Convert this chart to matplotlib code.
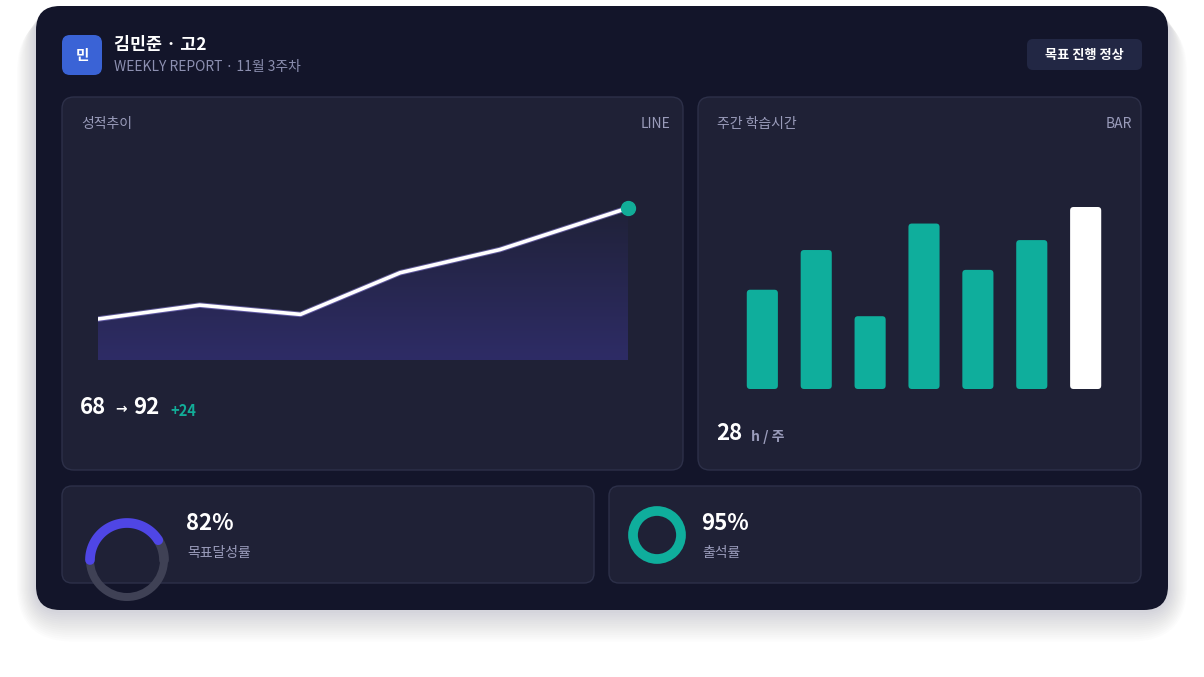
import numpy as np
import matplotlib.pyplot as plt
from matplotlib.patches import FancyBboxPatch, Wedge, Circle
from matplotlib.path import Path
from matplotlib.patches import PathPatch

plt.rcParams['font.family'] = ['Noto Sans CJK KR', 'DejaVu Sans']

# data
scores = [68, 71, 69, 78, 83, 92]
hours = [3.0, 4.2, 2.2, 5.0, 3.6, 4.5, 5.5]
goal_rate = 82
attend_rate = 95

W, H = 1204, 677
fig = plt.figure(figsize=(W / 100, H / 100), dpi=100)
fig.patch.set_facecolor('white')
ax = fig.add_axes([0, 0, 1, 1])
ax.set_xlim(0, W)
ax.set_ylim(H, 0)
ax.axis('off')

def rbox(x0, y0, x1, y1, r, fc, ec='none', lw=0, alpha=1, z=1):
    p = FancyBboxPatch((x0 + r, y0 + r), x1 - x0 - 2 * r, y1 - y0 - 2 * r,
                       boxstyle='round,pad=%s' % r, fc=fc, ec=ec, lw=lw, alpha=alpha, zorder=z)
    ax.add_patch(p)

# shadow
for i in range(14):
    g = 3 + i * 2.2
    rbox(36 - g * 0.6, 6 + g * 0.3, 1168 + g * 0.6, 610 + g, 24 + g, '#1a1d40', alpha=0.012, z=0)
rbox(36, 6, 1168, 610, 24, '#13152a', z=1)

# header
rbox(62, 35, 102, 75, 8, '#3a63d6', z=2)
ax.text(82, 55, '민', color='white', fontsize=10.5, fontweight='bold', ha='center', va='center', zorder=3)
ax.text(114, 45, '김민준 · 고2', color='white', fontsize=12.5, fontweight='bold', va='center', zorder=3)
ax.text(114, 67, 'WEEKLY REPORT · 11월 3주차', color='#8c8fb0', fontsize=10, va='center', zorder=3)
rbox(1027, 39, 1142, 70, 6, '#222744', z=2)
ax.text(1084.5, 55, '목표 진행 정상', color='white', fontsize=9.5, fontweight='bold', ha='center', va='center', zorder=3)

# panels
panel = '#1f2136'
edge = '#2d3049'
rbox(62, 97, 683, 470, 12, panel, edge, 1, z=2)
rbox(698, 97, 1141, 470, 12, panel, edge, 1, z=2)
rbox(62, 486, 594, 583, 10, panel, edge, 1, z=2)
rbox(609, 486, 1141, 583, 10, panel, edge, 1, z=2)

ax.text(81, 124, '성적추이', color='#9a9cbb', fontsize=10, va='center', zorder=3)
ax.text(670, 124, 'LINE', color='#9a9cbb', fontsize=10, ha='right', va='center', zorder=3)
ax.text(717, 124, '주간 학습시간', color='#9a9cbb', fontsize=10, va='center', zorder=3)
ax.text(1132, 124, 'BAR', color='#9a9cbb', fontsize=10, ha='right', va='center', zorder=3)

# line chart
lx0, lx1, ly0, ly1 = 98, 628, 200, 360
lax = fig.add_axes([lx0 / W, 1 - ly1 / H, (lx1 - lx0) / W, (ly1 - ly0) / H])
lax.axis('off')
ymin = 68 - (360 - 319) / 4.625
ymax = 92 + 8 / 4.625
lax.set_xlim(0, len(scores) - 1)
lax.set_ylim(ymin, ymax)
xs = np.arange(len(scores))
xs = np.array([0, 0.96, 1.91, 2.85, 3.79, 5.0])
verts = [(xs[0], ymin)] + list(zip(xs, scores)) + [(xs[-1], ymin), (xs[0], ymin)]
clip = PathPatch(Path(verts), fc='none', ec='none')
lax.add_patch(clip)
grad = np.linspace(1, 0, 256).reshape(-1, 1)
cmap = plt.matplotlib.colors.LinearSegmentedColormap.from_list('g', ['#1f2136', '#2e2c66'])
im = lax.imshow(grad, extent=[0, 5, ymin, ymax], aspect='auto', cmap=cmap, origin='lower', zorder=1)
im.set_clip_path(clip)
lax.plot(xs, scores, color='#9a8cf0', lw=4, alpha=0.5, zorder=2, solid_capstyle='round')
lax.plot(xs, scores, color='white', lw=2.6, zorder=3, solid_capstyle='round')
lax.plot(xs[-1], scores[-1], 'o', color='#12ad98', ms=10, zorder=4, clip_on=False)

ax.text(80, 408, '%d' % scores[0], color='white', fontsize=16, fontweight='bold', va='center', zorder=3)
ax.text(115, 409, '→', color='white', fontsize=10, fontweight='bold', va='center', zorder=3, family='DejaVu Sans')
ax.text(133, 408, '%d' % scores[-1], color='white', fontsize=16, fontweight='bold', va='center', zorder=3)
ax.text(170, 411, '+%d' % (scores[-1] - scores[0]), color='#12ad98', fontsize=10.5, fontweight='bold', va='center', zorder=3)

# bar chart
bx0, bx1, by0, by1 = 730, 1118, 200, 389
bax = fig.add_axes([bx0 / W, 1 - by1 / H, (bx1 - bx0) / W, (by1 - by0) / H])
bax.axis('off')
n = len(hours)
bax.set_xlim(-0.6, n - 0.4)
top = 5.5 * (by1 - by0) / 182
bax.set_ylim(0, top)
ux = (n) / (bx1 - bx0)
uy = top / (by1 - by0)
bw = 32 * ux
for i, h in enumerate(hours):
    c = 'white' if i == n - 1 else '#0fae9c'
    r = 3.5 * ux
    p = FancyBboxPatch((i - bw / 2 + r, r * uy / ux), bw - 2 * r, h - 2 * r * uy / ux,
                       boxstyle='round,pad=%s' % r, mutation_aspect=uy / ux, fc=c, ec='none')
    bax.add_patch(p)

ax.text(716, 434, '%d' % round(sum(hours)), color='white', fontsize=16, fontweight='bold', va='center', zorder=3)
ax.text(751, 437, 'h / 주', color='#9a9cbb', fontsize=10, fontweight='bold', va='center', zorder=3)

# gauge
cx, cy, R = 127, 560, 37
ax.add_patch(Wedge((cx, cy), R + 4, 0, 180, width=8, fc='#3f4155', ec='none', zorder=3))
ang = 180 * goal_rate / 100
th = np.radians(np.linspace(180, 180 - ang, 100))
ax.plot(cx + R * np.cos(th), cy - R * np.sin(th), color='#4f46e5', lw=7, solid_capstyle='round', zorder=4)
th0 = np.radians(np.linspace(180 - ang, 0, 30))
ax.plot(cx + R * np.cos(th0), cy - R * np.sin(th0), color='#3f4155', lw=7, solid_capstyle='round', zorder=3.5)
ax.text(186, 524, '%d%%' % goal_rate, color='white', fontsize=16, fontweight='bold', va='center', zorder=3)
ax.text(187, 553, '목표달성률', color='#9a9cbb', fontsize=10, va='center', zorder=3)

# ring
ax.add_patch(Circle((657, 535), 24, fc='none', ec='#0fae9c', lw=7, zorder=3))
ax.text(701, 524, '%d%%' % attend_rate, color='white', fontsize=16, fontweight='bold', va='center', zorder=3)
ax.text(702, 553, '출석률', color='#9a9cbb', fontsize=10, va='center', zorder=3)

fig.savefig('out.png', dpi=100, facecolor='white')
